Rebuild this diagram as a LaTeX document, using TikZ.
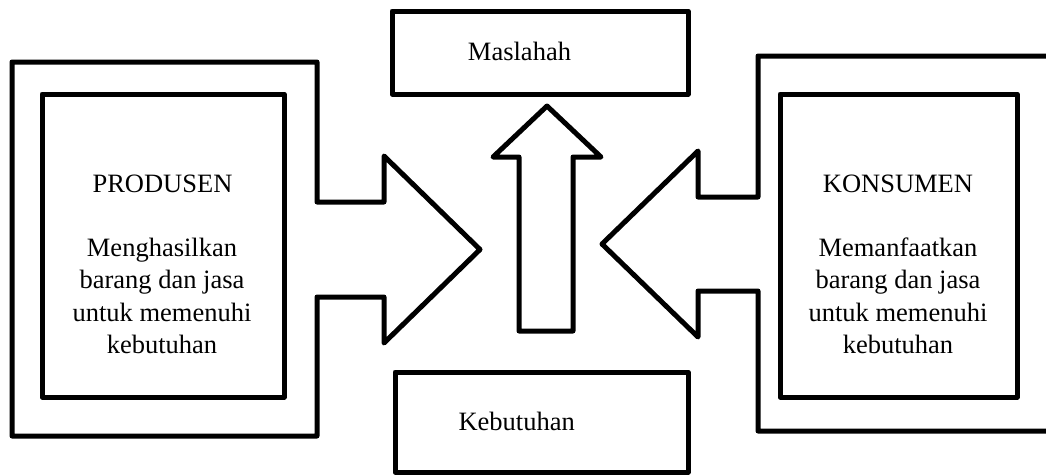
\documentclass[tikz,border=0pt]{standalone}
\usepackage{fontspec}
\setmainfont{Liberation Serif}
\begin{document}
\begin{tikzpicture}[x=1pt,y=-1pt,
  outline/.style={draw=black,line width=5pt,line join=round},
  panel/.style={outline,rectangle,inner sep=0pt},
  label/.style={font=\fontsize{26.5}{32}\selectfont,inner sep=0pt,anchor=base}]
\useasboundingbox (0,0) rectangle (1046,475);
\clip (0,0) rectangle (1046,475);

% producer frame with its arrow pointing right
\draw[outline] (12,62) -- (317,62) -- (317,202) -- (384,202) -- (384,156)
  -- (480,249.5) -- (384,343) -- (384,297) -- (317,297) -- (317,436)
  -- (12,436) -- cycle;

% consumer frame with its arrow pointing left (runs off the right edge)
\draw[outline] (1056,56) -- (758,56) -- (758,197) -- (698,197) -- (698,151)
  -- (602,244) -- (698,337) -- (698,291) -- (758,291) -- (758,431) -- (1056,431);

% upward arrow towards maslahah
\draw[outline] (519,331) -- (519,157) -- (493,157) -- (547,106) -- (601,157)
  -- (573,157) -- (573,331) -- cycle;

% boxes
\node[panel,minimum width=242pt,minimum height=303pt] (prod) at (163,245.5) {};
\node[panel,minimum width=237pt,minimum height=303pt] (kons) at (898.5,245.5) {};
\node[panel,minimum width=296pt,minimum height=83pt] (mas) at (540,52.5) {};
\node[panel,minimum width=293pt,minimum height=100pt] (keb) at (541.5,422) {};

% titles
\node[label] (prodtitle) at (162.5,192) {PRODUSEN};
\node[label] (konstitle) at (898,192) {KONSUMEN};
\node[label] (mastext) at (519.5,60) {Maslahah};
\node[label] (kebtext) at (516.7,430.7) {Kebutuhan};

% producer description
\node[label] (prodA) at (162,256.5) {Menghasilkan};
\node[label] (prodB) at (162,288.8) {barang dan jasa};
\node[label] (prodC) at (162,321.1) {untuk memenuhi};
\node[label] (prodD) at (162,353.4) {kebutuhan};

% consumer description
\node[label] (konsA) at (898,256.5) {Memanfaatkan};
\node[label] (konsB) at (898,288.8) {barang dan jasa};
\node[label] (konsC) at (898,321.1) {untuk memenuhi};
\node[label] (konsD) at (898,353.4) {kebutuhan};
\end{tikzpicture}
\end{document}
